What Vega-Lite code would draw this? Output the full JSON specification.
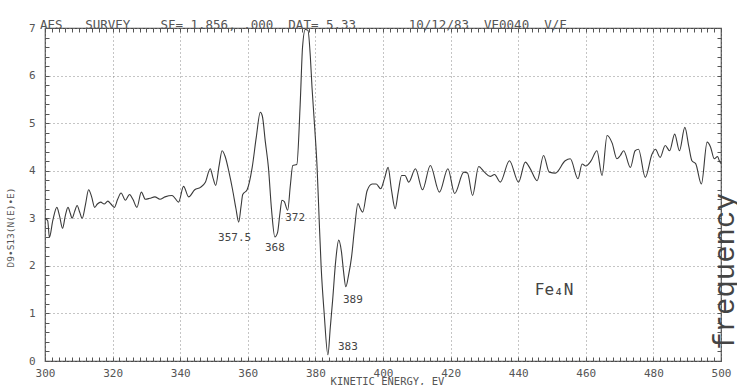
{
  "$schema": "https://vega.github.io/schema/vega-lite/v6.json",
  "width": 676,
  "height": 333,
  "autosize": {"type": "none"},
  "padding": {"left": 45, "top": 28, "right": 16, "bottom": 24},
  "background": "#ffffff",
  "config": {
    "view": {"stroke": "#4a4a4a", "strokeWidth": 1.2},
    "axis": {
      "domain": false,
      "labelFont": "DejaVu Sans Mono",
      "labelFontSize": 11,
      "labelColor": "#555555",
      "titleFont": "DejaVu Sans Mono",
      "titleFontWeight": "normal",
      "titleColor": "#555555",
      "tickColor": "#555555",
      "tickWidth": 1,
      "tickSize": -4,
      "gridColor": "#8a8a8a",
      "gridDash": [1, 3],
      "gridWidth": 1,
      "labelOverlap": false,
      "labelBound": false,
      "labelFlush": false
    }
  },
  "title": {
    "text": "AES\u00a0\u00a0\u00a0SURVEY\u00a0\u00a0\u00a0\u00a0SF=\u00a01.856,\u00a0.000\u00a0\u00a0DAT=\u00a05.33\u00a0\u00a0\u00a0\u00a0\u00a0\u00a0\u00a010/12/83\u00a0\u00a0VE0040\u00a0\u00a0V/F",
    "anchor": "start",
    "frame": "group",
    "font": "DejaVu Sans Mono",
    "fontSize": 12.5,
    "fontWeight": "normal",
    "color": "#555555",
    "baseline": "alphabetic",
    "offset": -19,
    "dx": -5
  },
  "datasets": {
    "spectrum": [
      {"E": 300.0, "V": 3.00}, {"E": 300.8, "V": 2.95}, {"E": 301.3, "V": 2.60}, {"E": 302.3, "V": 2.95},
      {"E": 303.5, "V": 3.23}, {"E": 304.3, "V": 3.05}, {"E": 305.2, "V": 2.79}, {"E": 306.0, "V": 3.05},
      {"E": 306.8, "V": 3.23}, {"E": 307.5, "V": 3.10}, {"E": 308.0, "V": 3.00}, {"E": 308.8, "V": 3.15},
      {"E": 309.5, "V": 3.27}, {"E": 310.3, "V": 3.12}, {"E": 311.0, "V": 3.00}, {"E": 312.0, "V": 3.30},
      {"E": 312.9, "V": 3.60}, {"E": 313.8, "V": 3.45}, {"E": 314.7, "V": 3.23}, {"E": 315.5, "V": 3.30},
      {"E": 316.5, "V": 3.34}, {"E": 317.5, "V": 3.30}, {"E": 318.6, "V": 3.36}, {"E": 319.5, "V": 3.30},
      {"E": 320.5, "V": 3.23}, {"E": 321.5, "V": 3.40}, {"E": 322.5, "V": 3.53}, {"E": 323.8, "V": 3.38},
      {"E": 325.0, "V": 3.50}, {"E": 326.0, "V": 3.40}, {"E": 327.2, "V": 3.23}, {"E": 328.5, "V": 3.55},
      {"E": 329.7, "V": 3.40}, {"E": 331.0, "V": 3.42}, {"E": 332.5, "V": 3.45}, {"E": 334.0, "V": 3.40},
      {"E": 335.5, "V": 3.45}, {"E": 337.6, "V": 3.48}, {"E": 338.5, "V": 3.42}, {"E": 339.5, "V": 3.34},
      {"E": 341.0, "V": 3.67}, {"E": 342.5, "V": 3.45}, {"E": 344.3, "V": 3.60}, {"E": 346.0, "V": 3.65},
      {"E": 347.4, "V": 3.75}, {"E": 348.9, "V": 4.04}, {"E": 349.7, "V": 3.85}, {"E": 350.5, "V": 3.69},
      {"E": 351.5, "V": 4.10}, {"E": 352.4, "V": 4.42}, {"E": 353.3, "V": 4.30}, {"E": 354.5, "V": 3.95},
      {"E": 355.5, "V": 3.60}, {"E": 356.5, "V": 3.20}, {"E": 357.3, "V": 2.92}, {"E": 358.0, "V": 3.25},
      {"E": 358.5, "V": 3.50}, {"E": 359.8, "V": 3.60}, {"E": 361.3, "V": 4.07}, {"E": 362.5, "V": 4.70},
      {"E": 363.7, "V": 5.23}, {"E": 364.3, "V": 5.15}, {"E": 365.2, "V": 4.60}, {"E": 366.1, "V": 4.07},
      {"E": 367.0, "V": 3.20}, {"E": 368.0, "V": 2.61}, {"E": 368.8, "V": 2.70}, {"E": 369.5, "V": 3.10},
      {"E": 370.1, "V": 3.38}, {"E": 370.8, "V": 3.35}, {"E": 371.8, "V": 3.17}, {"E": 372.6, "V": 3.70},
      {"E": 373.3, "V": 4.11}, {"E": 374.5, "V": 4.13}, {"E": 375.5, "V": 5.40}, {"E": 376.2, "V": 6.60},
      {"E": 377.0, "V": 6.97}, {"E": 377.8, "V": 6.95}, {"E": 378.5, "V": 6.40}, {"E": 379.0, "V": 5.75},
      {"E": 379.8, "V": 4.90}, {"E": 380.5, "V": 4.07}, {"E": 381.1, "V": 3.00}, {"E": 381.7, "V": 1.98},
      {"E": 382.6, "V": 1.00}, {"E": 383.7, "V": 0.13}, {"E": 384.4, "V": 0.70}, {"E": 385.1, "V": 1.28},
      {"E": 386.0, "V": 2.10}, {"E": 386.9, "V": 2.54}, {"E": 387.7, "V": 2.30}, {"E": 388.3, "V": 1.90},
      {"E": 389.0, "V": 1.56}, {"E": 389.8, "V": 1.80}, {"E": 390.7, "V": 2.19}, {"E": 391.6, "V": 2.80},
      {"E": 392.6, "V": 3.31}, {"E": 393.3, "V": 3.20}, {"E": 394.0, "V": 3.13}, {"E": 395.3, "V": 3.58},
      {"E": 396.8, "V": 3.72}, {"E": 398.0, "V": 3.72}, {"E": 399.3, "V": 3.62}, {"E": 400.5, "V": 3.85},
      {"E": 401.5, "V": 4.07}, {"E": 402.5, "V": 3.60}, {"E": 403.6, "V": 3.20}, {"E": 404.5, "V": 3.55},
      {"E": 405.5, "V": 3.90}, {"E": 406.5, "V": 3.90}, {"E": 407.6, "V": 3.76}, {"E": 409.6, "V": 4.04},
      {"E": 411.7, "V": 3.60}, {"E": 414.0, "V": 4.11}, {"E": 416.7, "V": 3.55}, {"E": 419.2, "V": 4.04},
      {"E": 421.2, "V": 3.52}, {"E": 423.9, "V": 3.97}, {"E": 425.0, "V": 3.95}, {"E": 426.5, "V": 3.48},
      {"E": 428.3, "V": 4.09}, {"E": 430.0, "V": 3.97}, {"E": 431.7, "V": 3.88}, {"E": 433.0, "V": 3.92},
      {"E": 434.7, "V": 3.76}, {"E": 437.4, "V": 4.21}, {"E": 440.1, "V": 3.76}, {"E": 442.1, "V": 4.18},
      {"E": 443.5, "V": 4.05}, {"E": 445.6, "V": 3.79}, {"E": 447.5, "V": 4.32}, {"E": 449.2, "V": 3.97},
      {"E": 451.0, "V": 3.95}, {"E": 453.9, "V": 4.21}, {"E": 455.4, "V": 4.25}, {"E": 457.7, "V": 3.83},
      {"E": 458.9, "V": 4.14}, {"E": 460.0, "V": 4.10}, {"E": 461.5, "V": 4.20}, {"E": 463.3, "V": 4.42},
      {"E": 464.8, "V": 3.90}, {"E": 466.3, "V": 4.74}, {"E": 467.8, "V": 4.58}, {"E": 469.2, "V": 4.25},
      {"E": 470.2, "V": 4.32}, {"E": 471.2, "V": 4.42}, {"E": 473.2, "V": 4.07}, {"E": 474.6, "V": 4.42},
      {"E": 475.6, "V": 4.45}, {"E": 477.6, "V": 3.86}, {"E": 479.6, "V": 4.35}, {"E": 480.6, "V": 4.45},
      {"E": 482.0, "V": 4.28}, {"E": 483.5, "V": 4.53}, {"E": 484.8, "V": 4.42}, {"E": 486.3, "V": 4.77},
      {"E": 487.7, "V": 4.42}, {"E": 489.3, "V": 4.91}, {"E": 490.5, "V": 4.50}, {"E": 491.4, "V": 4.21},
      {"E": 492.5, "V": 4.15}, {"E": 494.2, "V": 3.72}, {"E": 495.9, "V": 4.60}, {"E": 496.9, "V": 4.50},
      {"E": 498.0, "V": 4.25}, {"E": 499.0, "V": 4.30}, {"E": 499.5, "V": 4.21}, {"E": 500.0, "V": 4.15}
    ],
    "peaks": [
      {"label": "357.5", "E": 356.1, "V": 2.58},
      {"label": "368", "E": 368.0, "V": 2.37},
      {"label": "372", "E": 374.0, "V": 3.0},
      {"label": "389", "E": 391.1, "V": 1.28},
      {"label": "383", "E": 389.6, "V": 0.29}
    ],
    "compound": [
      {"label": "Fe₄N", "E": 450.6, "V": 1.5}
    ]
  },
  "layer": [
    {
      "data": {"name": "spectrum"},
      "mark": {"type": "line", "color": "#3a3a3a", "strokeWidth": 1.1, "interpolate": "monotone"},
      "encoding": {
        "x": {
          "field": "E", "type": "quantitative",
          "scale": {"domain": [300, 500], "nice": false, "zero": false},
          "axis": {
            "orient": "bottom",
            "values": [300,302,304,306,308,310,312,314,316,318,320,322,324,326,328,330,332,334,336,338,340,342,344,346,348,350,352,354,356,358,360,362,364,366,368,370,372,374,376,378,380,382,384,386,388,390,392,394,396,398,400,402,404,406,408,410,412,414,416,418,420,422,424,426,428,430,432,434,436,438,440,442,444,446,448,450,452,454,456,458,460,462,464,466,468,470,472,474,476,478,480,482,484,486,488,490,492,494,496,498,500],
            "labelExpr": "datum.value % 20 === 0 ? format(datum.value, 'd') : ''",
            "labelPadding": 10,
            "grid": true,
            "gridOpacity": {"condition": {"test": "datum.value % 20 === 0", "value": 1}, "value": 0},
            "title": "KINETIC ENERGY, EV",
            "titleFontSize": 10.5,
            "titleBaseline": "top",
            "titleX": 342,
            "titleY": 15.5
          }
        },
        "y": {
          "field": "V", "type": "quantitative",
          "scale": {"domain": [0, 7], "nice": false},
          "axis": {
            "orient": "left",
            "values": [0,0.2,0.4,0.6,0.8,1,1.2,1.4,1.6,1.8,2,2.2,2.4,2.6,2.8,3,3.2,3.4,3.6,3.8,4,4.2,4.4,4.6,4.8,5,5.2,5.4,5.6,5.8,6,6.2,6.4,6.6,6.8,7],
            "labelExpr": "datum.value % 1 === 0 ? format(datum.value, 'd') : ''",
            "labelPadding": 14,
            "grid": true,
            "gridOpacity": {"condition": {"test": "datum.value % 1 === 0", "value": 1}, "value": 0},
            "title": "D9•S13(N(E)•E)",
            "titleFontSize": 9.5,
            "titleAngle": 270,
            "titleBaseline": "middle",
            "titleX": -35,
            "titleY": 199
          }
        }
      }
    },
    {
      "data": {"name": "peaks"},
      "mark": {"type": "text", "font": "DejaVu Sans Mono", "fontSize": 11, "color": "#444444", "align": "center", "baseline": "middle"},
      "encoding": {
        "x": {
          "field": "E", "type": "quantitative",
          "axis": {
            "orient": "top",
            "values": [300,302,304,306,308,310,312,314,316,318,320,322,324,326,328,330,332,334,336,338,340,342,344,346,348,350,352,354,356,358,360,362,364,366,368,370,372,374,376,378,380,382,384,386,388,390,392,394,396,398,400,402,404,406,408,410,412,414,416,418,420,422,424,426,428,430,432,434,436,438,440,442,444,446,448,450,452,454,456,458,460,462,464,466,468,470,472,474,476,478,480,482,484,486,488,490,492,494,496,498,500],
            "labels": false,
            "grid": false,
            "title": null
          }
        },
        "y": {
          "field": "V", "type": "quantitative",
          "axis": {
            "orient": "right",
            "values": [0,0.2,0.4,0.6,0.8,1,1.2,1.4,1.6,1.8,2,2.2,2.4,2.6,2.8,3,3.2,3.4,3.6,3.8,4,4.2,4.4,4.6,4.8,5,5.2,5.4,5.6,5.8,6,6.2,6.4,6.6,6.8,7],
            "labels": false,
            "grid": false,
            "title": "frequency",
            "titleFont": "Liberation Mono",
            "titleFontSize": 29,
            "titleColor": "#444444",
            "titleAngle": 270,
            "titleBaseline": "alphabetic",
            "titleAlign": "center",
            "titleX": 12,
            "titleY": 243
          }
        },
        "text": {"field": "label", "type": "nominal"}
      }
    },
    {
      "data": {"name": "compound"},
      "mark": {"type": "text", "font": "DejaVu Sans Mono", "fontSize": 16, "color": "#444444", "align": "center", "baseline": "middle"},
      "encoding": {
        "x": {"field": "E", "type": "quantitative", "axis": null},
        "y": {"field": "V", "type": "quantitative", "axis": null},
        "text": {"field": "label", "type": "nominal"}
      }
    }
  ],
  "resolve": {"axis": {"x": "independent", "y": "independent"}}
}
